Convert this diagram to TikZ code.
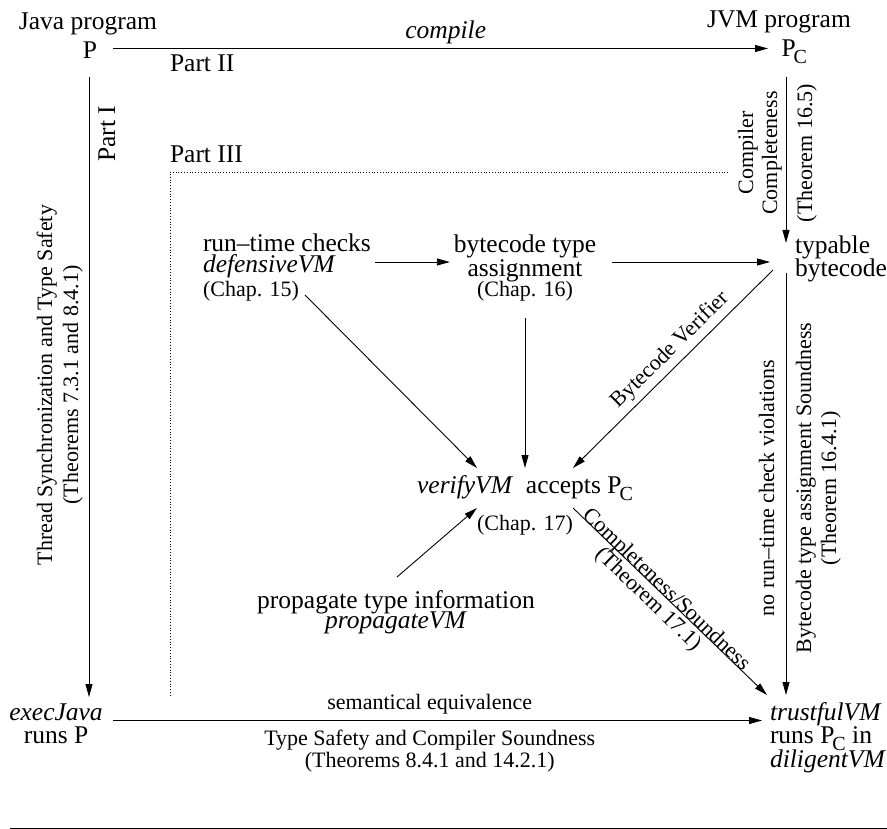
\documentclass[tikz,border=0pt]{standalone}
\usepackage{fontspec}
\setmainfont{Liberation Serif}
\usetikzlibrary{arrows.meta}
\newcommand\mainsz{\fontsize{25.5pt}{21pt}\selectfont\lineskiplimit=-100pt\relax}
\newcommand\smallsz{\fontsize{22pt}{22pt}\selectfont\lineskiplimit=-100pt\relax}
\newcommand\hs{\rule{0pt}{20pt}}
\newcommand\Pc{P\kern-2pt\raisebox{-7pt}{\fontsize{20pt}{20pt}\selectfont C}}
\begin{document}
\begin{tikzpicture}[x=1pt,y=1pt,
  txt/.style={inner sep=0pt, outer sep=0pt, font=\mainsz},
  sml/.style={inner sep=0pt, outer sep=0pt, font=\smallsz},
  conn/.style={line width=0.9pt, -{Triangle[length=13pt,width=7pt]}},
  partline/.style={line width=0.8pt, dash pattern=on 0.8pt off 2pt}]
\useasboundingbox (0,0) rectangle (887,-829);

% top row
\node[txt, anchor=base] (javalbl) at (88,-30) {Java program};
\node[txt, anchor=base] (P) at (90,-59) {P};
\node[txt, anchor=base] (jvmlbl) at (779,-28) {JVM program};
\node[txt, anchor=base west] (PC) at (781.5,-57) {\Pc};

% parts
\node[txt, anchor=base west] (part2) at (170,-72) {Part II};
\node[txt, anchor=base west] (part3) at (170,-163) {Part III};
\node[txt, anchor=base, rotate=90] (part1) at (115,-134) {Part I};

% main blocks
\node[txt, align=left, anchor=north west] (typable) at (795,-233) {\hs typable\\[3pt]bytecode};
\node[txt, align=left, anchor=north west] (runtime) at (203,-232) {\hs run--time checks\\\textit{defensiveVM}\\[3pt]{\smallsz (Chap. 15)}};
\node[txt, align=center, anchor=north] (bctype) at (525,-233) {\hs bytecode type\\[3pt]assignment\\[-1pt]{\smallsz (Chap. 16)}};
\node[txt, align=center, anchor=north] (verify) at (525,-473) {\hs\textit{verifyVM}\ \ accepts \Pc\\[16pt]{\smallsz (Chap. 17)}};
\node[txt, align=center, anchor=north] (prop) at (396,-588) {\hs propagate type information\\[-1pt]\textit{propagateVM}};
\node[txt, align=center, anchor=north] (exec) at (56,-700) {\hs\textit{execJava}\\[2pt]runs P};
\node[txt, align=left, anchor=north west] (trust) at (770,-700) {\hs\textit{trustfulVM}\\[2pt]runs \Pc{} in\\[3pt]\textit{diligentVM}};

% rotated labels
\node[sml, align=center, anchor=north, rotate=90] (threadlbl) at (32,-385) {\hs Thread Synchronization and Type Safety\\[4pt](Theorems 7.3.1 and 8.4.1)};
\node[sml, align=center, anchor=north, rotate=90] (cclbl) at (733,-153) {\hs Compiler\\[2pt]Completeness};
\node[sml, anchor=base, rotate=90] (th165) at (812,-153) {(Theorem 16.5)};
\node[sml, anchor=base, rotate=90] (nortlbl) at (774,-488) {no run--time check violations};
\node[sml, align=center, anchor=north, rotate=90] (btslbl) at (791,-488) {\hs Bytecode type assignment Soundness\\[3pt](Theorem 16.4.1)};

% connectors
\draw[conn] ([xshift=16pt,yshift=10.5pt]P.base east) -- node[txt, pos=0.508, above=5pt]{\textit{compile}} ([xshift=-13.5pt,yshift=8.5pt]PC.base west);
\draw[conn] ([xshift=-1pt,yshift=-18pt]P.base) -- ([xshift=33pt,yshift=3pt]exec.north);
\draw[conn] ([xshift=4.5pt,yshift=-20pt]PC.base west) -- ([xshift=-9pt,yshift=-10pt]typable.north west);
\draw[conn] ([xshift=57pt,yshift=-20.5pt]exec.north) --
  node[sml, pos=0.488, anchor=base, yshift=11.5pt]{semantical equivalence}
  node[sml, pos=0.488, align=center, anchor=north, yshift=-4.5pt]{\hs Type Safety and Compiler Soundness\\(Theorems 8.4.1 and 14.2.1)}
  ([xshift=-8pt,yshift=-20.5pt]trust.north west);
\draw[conn] ([xshift=4pt,yshift=-30pt]runtime.north east) -- ([xshift=-4pt,yshift=-29pt]bctype.north west);
\draw[conn] ([xshift=16pt,yshift=-29pt]bctype.north east) -- ([xshift=-25pt,yshift=-29pt]typable.north west);
\draw[conn] ([xshift=102pt,yshift=-63pt]runtime.north west) -- ([xshift=-48pt,yshift=5pt]verify.north);
\draw[conn] ([yshift=-85pt]bctype.north) -- ([yshift=5pt]verify.north);
\draw[conn] ([xshift=-22pt,yshift=-37pt]typable.north west) --
  node[sml, sloped, above, inner sep=5pt, pos=0.46]{Bytecode Verifier}
  ([xshift=48pt,yshift=5pt]verify.north);
\draw[conn] ([xshift=48pt,yshift=-35pt]verify.north) --
  node[sml, sloped, anchor=base, pos=0.46]{Completeness/Soundness}
  node[sml, sloped, below, inner sep=4pt, pos=0.435]{(Theorem 17.1)}
  ([xshift=-3pt,yshift=5pt]trust.north west);
\draw[conn] ([xshift=1pt,yshift=11pt]prop.north) -- ([xshift=-48pt,yshift=-35pt]verify.north);
\draw[conn] ([xshift=-9pt,yshift=-40pt]typable.north west) -- ([xshift=16pt,yshift=5pt]trust.north west);

% Part III boundary and bottom rule
\draw[partline] (728,-172) -- (170,-172) -- (170,-695);
\draw[line width=1pt] (10,-828) -- (887,-828);
\end{tikzpicture}
\end{document}
